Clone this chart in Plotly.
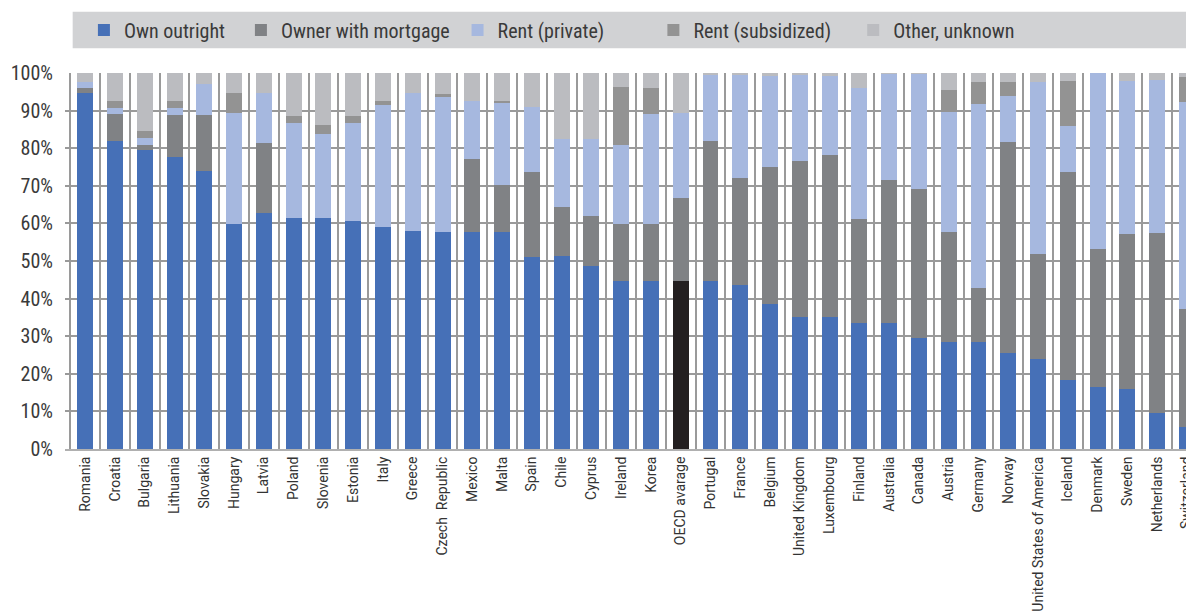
import plotly.graph_objects as go

countries = ["Romania", "Croatia", "Bulgaria", "Lithuania", "Slovakia", "Hungary", "Latvia",
             "Poland", "Slovenia", "Estonia", "Italy", "Greece", "Czech\u00a0 Republic", "Mexico",
             "Malta", "Spain", "Chile", "Cyprus", "Ireland", "Korea", "OECD avarage", "Portugal",
             "France", "Belgium", "United Kingdom", "Luxembourg", "Finland", "Australia", "Canada",
             "Austria", "Germany", "Norway", "United States of America", "Iceland", "Denmark",
             "Sweden", "Netherlands", "Switzerland"]

own_outright = [94.6, 81.8, 79.4, 77.7, 74.0, 59.9, 62.8, 61.5, 61.5, 60.7, 59.1, 58.0, 57.8, 57.8,
                57.8, 51.1, 51.4, 48.7, 44.7, 44.7, 44.7, 44.7, 43.7, 38.6, 35.2, 35.2, 33.5, 33.5,
                29.5, 28.5, 28.5, 25.6, 24.0, 18.4, 16.5, 16.0, 9.6, 5.9]
owner_mortgage = [1.5, 7.4, 1.5, 11.2, 14.7, 0.0, 18.7, 0.0, 0.0, 0.0, 0.0, 0.0, 0.0, 19.4,
                  12.5, 22.6, 13.0, 13.3, 15.2, 15.2, 22.1, 37.3, 28.4, 36.5, 41.5, 43.1, 27.7, 38.1,
                  39.7, 29.3, 14.4, 56.1, 27.9, 55.3, 36.7, 41.2, 47.9, 31.4]
rent_private = [1.6, 1.6, 1.9, 1.9, 8.5, 29.5, 13.1, 25.1, 22.4, 25.9, 32.3, 36.8, 35.9, 15.4,
                21.8, 17.3, 18.1, 20.5, 21.0, 29.3, 22.6, 17.6, 27.3, 24.2, 22.7, 21.0, 34.9, 28.2,
                30.6, 31.9, 48.9, 12.3, 45.8, 12.3, 46.8, 40.8, 40.7, 55.1]
rent_subsidized = [0.0, 1.8, 1.8, 1.8, 0.0, 5.2, 0.0, 1.9, 2.2, 1.9, 1.2, 0.0, 0.8, 0.0,
                   0.4, 0.0, 0.0, 0.0, 15.5, 6.9, 0.0, 0.0, 0.0, 0.0, 0.0, 0.0, 0.0, 0.0,
                   0.0, 5.9, 5.9, 3.7, 0.0, 12.0, 0.0, 0.0, 0.0, 6.6]
other_unknown = [2.3, 7.4, 15.4, 7.4, 2.8, 5.4, 5.4, 11.5, 13.9, 11.5, 7.4, 5.2, 5.5, 7.4,
                 7.5, 9.0, 17.5, 17.5, 3.6, 3.9, 10.6, 0.4, 0.6, 0.7, 0.6, 0.7, 3.9, 0.2,
                 0.2, 4.4, 2.3, 2.3, 2.3, 2.0, 0.0, 2.0, 1.8, 1.0]

series_names = ["Own outright", "Owner with mortgage", "Rent (private)", "Rent (subsidized)", "Other, unknown"]
series_values = [own_outright, owner_mortgage, rent_private, rent_subsidized, other_unknown]
series_colors = ["#4670b7", "#808285", "#a6b8df", "#939393", "#bbbcc0"]
highlight = "OECD avarage"
highlight_color = "#231f20"

y_ticks = [0, 10, 20, 30, 40, 50, 60, 70, 80, 90, 100]
y_ticktext = ["0%", "10%", "20%", "30%", "40%", "50%", "60%", "70%", "80%", "90%", "100%"]

# page has an 8px body margin; figure is sized so it ends at the window edge
OFF = 8
W, H = 1194 - OFF, 613 - OFF
ML, MR, MT, MB = 65 - OFF, 0, 73 - OFF, 164
plot_w = W - ML - MR
plot_h = H - MT - MB

def px_x(page_px):
    return (page_px - OFF - ML) / plot_w

def px_y(page_py):
    return (H - MB - (page_py - OFF)) / plot_h

legend_text_starts = [124, 281.7, 499.3, 696, 896.7]
legend_font = dict(family="Liberation Sans Narrow, Roboto Condensed, Roboto, sans-serif", size=20, color="#3a3a3a")

fig = go.Figure()
for i, (name, vals, col) in enumerate(zip(series_names, series_values, series_colors)):
    if i == 0:
        colors = [highlight_color if c == highlight else col for c in countries]
    else:
        colors = col
    fig.add_trace(go.Bar(
        x=countries, y=vals, name=name,
        marker=dict(color=colors, line=dict(width=0)),
        legend="legend" if i == 0 else f"legend{i+1}",
    ))

layout_legends = {}
for i, ts in enumerate(legend_text_starts):
    key = "legend" if i == 0 else f"legend{i+1}"
    layout_legends[key] = dict(
        x=px_x(ts - 40), xanchor="left", xref="paper",
        y=px_y(30), yanchor="middle", yref="paper",
        orientation="h", bgcolor="rgba(0,0,0,0)", borderwidth=0,
        font=legend_font, itemwidth=30,
    )

fig.update_layout(
    width=W, height=H,
    margin=dict(l=ML, r=MR, t=MT, b=MB, pad=0),
    paper_bgcolor="white", plot_bgcolor="white",
    barmode="stack", bargap=0.465,
    showlegend=True,
    shapes=[dict(type="rect", xref="paper", yref="paper",
                 x0=px_x(72.7), x1=px_x(1200), y0=px_y(48.3), y1=px_y(11.7),
                 fillcolor="#d1d2d4", line=dict(width=0), layer="below")],
    **layout_legends,
)

fig.update_xaxes(
    type="category", categoryorder="array", categoryarray=countries,
    range=[-0.68, 37.07], tickson="boundaries", ticks="",
    showgrid=True, gridcolor="#9a9a9a", gridwidth=1.5,
    tickangle=-90, tickfont=dict(family="Roboto", size=14, color="#333333"),
    showline=True, linecolor="#b0b0b0", linewidth=2,
)
fig.update_yaxes(
    range=[0, 100], tickvals=y_ticks, ticktext=y_ticktext,
    showgrid=True, gridcolor="#9a9a9a", gridwidth=1.5,
    zeroline=False, ticks="", ticklabelstandoff=11,
    tickfont=dict(family="Liberation Sans Narrow, Roboto Condensed, Roboto, sans-serif", size=20, color="#3a3a3a"),
)

fig.write_html("out.html")
